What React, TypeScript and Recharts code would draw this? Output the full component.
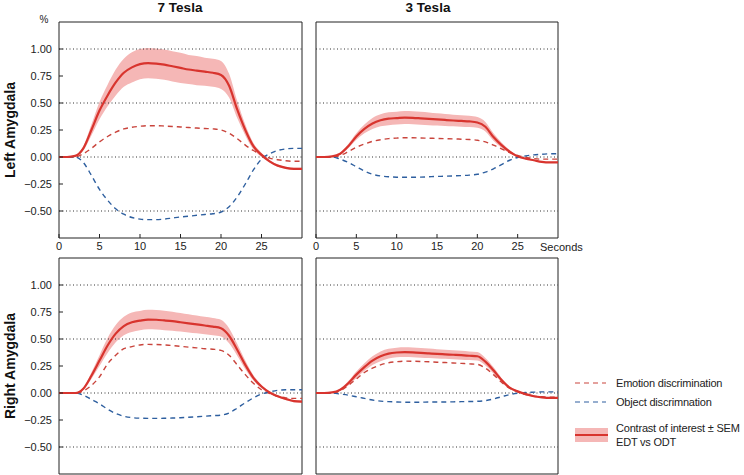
import {
  ComposedChart,
  Area,
  Line,
  XAxis,
  YAxis,
  ReferenceLine,
  ReferenceArea,
} from 'recharts';

const FONT = '"Liberation Sans", Arial, sans-serif';

const SECONDS = [
  0, 1, 2, 3, 4, 5, 6, 7, 8, 9, 10, 11, 12, 13, 14, 15, 16, 17, 18, 19, 20, 21, 22, 23, 24, 25, 26,
  27, 28, 29, 30,
];
const X_TICKS = [0, 5, 10, 15, 20, 25];
const Y_TICKS = [1, 0.75, 0.5, 0.25, 0, -0.25, -0.5];
const GRID_Y = [1, 0.5, 0, -0.5];

// 7 Tesla, left amygdala
const L7_CONTRAST = [
  0, 0, 0.01, 0.08, 0.25, 0.43, 0.57, 0.69, 0.78, 0.83, 0.86, 0.87, 0.865, 0.855, 0.84, 0.825, 0.81,
  0.8, 0.79, 0.78, 0.76, 0.66, 0.44, 0.25, 0.1, 0.02, -0.04, -0.08, -0.1, -0.11, -0.11,
];
const L7_SEM = [
  0, 0, 0, 0.02, 0.05, 0.08, 0.1, 0.12, 0.13, 0.14, 0.14, 0.14, 0.14, 0.14, 0.14, 0.14, 0.135, 0.135,
  0.13, 0.13, 0.13, 0.11, 0.08, 0.05, 0.03, 0.02, 0.01, 0.01, 0.01, 0.01, 0.01,
];
const L7_EMOTION = [
  0, 0, 0, 0.03, 0.08, 0.14, 0.19, 0.23, 0.26, 0.275, 0.285, 0.29, 0.29, 0.287, 0.283, 0.278, 0.273,
  0.268, 0.264, 0.26, 0.25, 0.22, 0.17, 0.11, 0.06, 0.02, -0.01, -0.025, -0.035, -0.04, -0.04,
];
const L7_OBJECT = [
  0, 0, 0, -0.05, -0.17, -0.3, -0.4, -0.48, -0.53, -0.56, -0.575, -0.58, -0.58, -0.575, -0.565,
  -0.555, -0.548, -0.54, -0.532, -0.525, -0.51, -0.46, -0.37, -0.25, -0.12, -0.02, 0.03, 0.06, 0.075,
  0.08, 0.08,
];

// 3 Tesla, left amygdala
const L3_CONTRAST = [
  0, 0, 0.005, 0.03, 0.1, 0.19, 0.26, 0.31, 0.34, 0.355, 0.36, 0.365, 0.363, 0.358, 0.353, 0.348,
  0.343, 0.338, 0.334, 0.33, 0.32, 0.28, 0.185, 0.11, 0.05, 0.006, -0.015, -0.03, -0.045, -0.05, -0.05,
];
const L3_SEM = [
  0, 0, 0, 0.01, 0.02, 0.03, 0.04, 0.05, 0.055, 0.06, 0.06, 0.06, 0.06, 0.06, 0.058, 0.056, 0.055,
  0.054, 0.053, 0.052, 0.05, 0.045, 0.035, 0.025, 0.015, 0.01, 0.005, 0.005, 0.005, 0.005, 0.005,
];
const L3_EMOTION = [
  0, 0, 0, 0.015, 0.05, 0.09, 0.12, 0.145, 0.16, 0.17, 0.175, 0.178, 0.178, 0.176, 0.174, 0.172, 0.17,
  0.168, 0.165, 0.162, 0.155, 0.14, 0.11, 0.075, 0.04, 0.015, -0.005, -0.015, -0.02, -0.02, -0.02,
];
const L3_OBJECT = [
  0, 0, 0, -0.02, -0.05, -0.09, -0.13, -0.16, -0.175, -0.183, -0.187, -0.188, -0.188, -0.186, -0.183,
  -0.18, -0.178, -0.175, -0.172, -0.168, -0.16, -0.14, -0.11, -0.07, -0.03, -0.005, 0.01, 0.02, 0.025,
  0.03, 0.03,
];

// 7 Tesla, right amygdala
const R7_CONTRAST = [
  0, 0, 0, 0.04, 0.16, 0.3, 0.44, 0.55, 0.62, 0.655, 0.67, 0.68, 0.678, 0.672, 0.665, 0.655, 0.645,
  0.635, 0.625, 0.615, 0.6, 0.53, 0.4, 0.26, 0.14, 0.06, 0.005, -0.03, -0.055, -0.075, -0.08,
];
const R7_SEM = [
  0, 0, 0, 0.01, 0.03, 0.05, 0.07, 0.08, 0.085, 0.09, 0.09, 0.09, 0.09, 0.09, 0.088, 0.086, 0.084,
  0.082, 0.08, 0.08, 0.078, 0.07, 0.055, 0.04, 0.025, 0.015, 0.01, 0.01, 0.01, 0.01, 0.01,
];
const R7_EMOTION = [
  0, 0, 0, 0.02, 0.07, 0.15, 0.27, 0.35, 0.41, 0.43, 0.445, 0.45, 0.449, 0.445, 0.44, 0.432, 0.425,
  0.418, 0.41, 0.405, 0.395, 0.35, 0.26, 0.17, 0.09, 0.03, -0.005, -0.03, -0.045, -0.05, -0.05,
];
const R7_OBJECT = [
  0, 0, 0, -0.02, -0.06, -0.1, -0.15, -0.19, -0.215, -0.228, -0.233, -0.235, -0.235, -0.234, -0.232,
  -0.229, -0.225, -0.22, -0.215, -0.21, -0.205, -0.185, -0.14, -0.09, -0.045, -0.01, 0.01, 0.025,
  0.03, 0.03, 0.03,
];

// 3 Tesla, right amygdala
const R3_CONTRAST = [
  0, 0, 0.005, 0.03, 0.09, 0.17, 0.24, 0.3, 0.34, 0.365, 0.375, 0.378, 0.376, 0.372, 0.367, 0.362,
  0.358, 0.354, 0.35, 0.345, 0.34, 0.29, 0.21, 0.12, 0.05, 0.015, -0.01, -0.03, -0.04, -0.045, -0.045,
];
const R3_SEM = [
  0, 0, 0, 0.01, 0.02, 0.03, 0.035, 0.04, 0.045, 0.045, 0.045, 0.045, 0.045, 0.045, 0.044, 0.043,
  0.042, 0.042, 0.041, 0.04, 0.04, 0.035, 0.03, 0.02, 0.012, 0.008, 0.005, 0.005, 0.005, 0.005, 0.005,
];
const R3_EMOTION = [
  0, 0, 0, 0.02, 0.07, 0.13, 0.19, 0.23, 0.26, 0.28, 0.29, 0.295, 0.294, 0.292, 0.289, 0.285, 0.282,
  0.278, 0.274, 0.27, 0.265, 0.23, 0.17, 0.1, 0.045, 0.01, -0.015, -0.03, -0.035, -0.04, -0.04,
];
const R3_OBJECT = [
  0, 0, 0, -0.01, -0.02, -0.035, -0.05, -0.065, -0.075, -0.08, -0.083, -0.085, -0.085, -0.085,
  -0.084, -0.084, -0.083, -0.082, -0.08, -0.079, -0.077, -0.07, -0.055, -0.035, -0.015, -0.002, 0.005,
  0.008, 0.01, 0.01, 0.01,
];

const BAND_COLOR = '#f5b7b6';
const CONTRAST_COLOR = '#d8342e';
const EMOTION_COLOR = '#c9443c';
const OBJECT_COLOR = '#2e5f9f';
const GRID_COLOR = '#333';
const TEXT_COLOR = '#222';

function buildData(contrast: number[], sem: number[], emotion: number[], object: number[]) {
  return SECONDS.map((t, i) => ({
    t,
    contrast: contrast[i],
    band: [contrast[i] - sem[i], contrast[i] + sem[i]],
    emotion: emotion[i],
    object: object[i],
  }));
}

const formatY = (v: number) => (v < 0 ? '\u2212' : '') + Math.abs(v).toFixed(2);

interface PanelProps {
  data: ReturnType<typeof buildData>;
  left: number;
  top: number;
  width: number;
  height: number;
  margin: { top: number; right: number; bottom: number; left: number };
  yAxisWidth: number;
  xAxisHeight: number;
  showY: boolean;
  showX: boolean;
}

function Panel({ data, left, top, width, height, margin, yAxisWidth, xAxisHeight, showY, showX }: PanelProps) {
  const tickStyle = { fontSize: 11, fill: TEXT_COLOR, fontFamily: FONT };
  return (
    <div style={{ position: 'absolute', left, top }}>
      <ComposedChart width={width} height={height} data={data} margin={margin}>
        <XAxis
          dataKey="t"
          type="number"
          domain={[0, 30]}
          ticks={X_TICKS}
          interval={0}
          height={xAxisHeight}
          axisLine={false}
          tickLine={{ stroke: TEXT_COLOR }}
          tickSize={-4}
          tickMargin={8}
          tick={showX ? tickStyle : false}
        />
        <YAxis
          type="number"
          domain={[-0.75, 1.25]}
          ticks={Y_TICKS}
          interval={0}
          width={yAxisWidth}
          axisLine={false}
          tickLine={{ stroke: TEXT_COLOR }}
          tickSize={-4}
          tickMargin={11}
          tick={showY ? tickStyle : false}
          tickFormatter={formatY}
        />
        {GRID_Y.map((v) => (
          <ReferenceLine key={v} y={v} stroke={GRID_COLOR} strokeDasharray="1 2.5" strokeWidth={1} />
        ))}
        <Area
          type="monotone"
          dataKey="band"
          fill={BAND_COLOR}
          fillOpacity={1}
          stroke="none"
          dot={false}
          activeDot={false}
          isAnimationActive={false}
        />
        <Line
          type="monotone"
          dataKey="emotion"
          stroke={EMOTION_COLOR}
          strokeWidth={1.4}
          strokeDasharray="5 4"
          dot={false}
          activeDot={false}
          isAnimationActive={false}
        />
        <Line
          type="monotone"
          dataKey="object"
          stroke={OBJECT_COLOR}
          strokeWidth={1.4}
          strokeDasharray="5 4"
          dot={false}
          activeDot={false}
          isAnimationActive={false}
        />
        <Line
          type="monotone"
          dataKey="contrast"
          stroke={CONTRAST_COLOR}
          strokeWidth={2.2}
          dot={false}
          activeDot={false}
          isAnimationActive={false}
        />
        <ReferenceArea
          x1={0}
          x2={30}
          y1={-0.75}
          y2={1.25}
          fill="none"
          fillOpacity={0}
          stroke={TEXT_COLOR}
          strokeWidth={1}
        />
      </ComposedChart>
    </div>
  );
}

const LEGEND_ITEMS = [
  { kind: 'dash', color: EMOTION_COLOR, lines: ['Emotion discrimination'] },
  { kind: 'dash', color: OBJECT_COLOR, lines: ['Object discrimnation'] },
  { kind: 'band', color: CONTRAST_COLOR, lines: ['Contrast of interest \u00b1 SEM', 'EDT vs ODT'] },
];

function LegendBox() {
  const rowTops = [375, 394, 421];
  return (
    <div
      style={{
        position: 'absolute',
        left: 573,
        top: 0,
        fontFamily: FONT,
        fontSize: 11,
        letterSpacing: '-0.2px',
        color: TEXT_COLOR,
      }}
    >
      {LEGEND_ITEMS.map((item, i) => (
        <div
          key={item.lines[0]}
          style={{ position: 'absolute', top: rowTops[i], left: 0, display: 'flex', alignItems: 'center', whiteSpace: 'nowrap' }}
        >
          <svg width={36} height={16} style={{ flex: 'none' }}>
            {item.kind === 'band' ? (
              <>
                <rect x={2} y={1} width={33} height={14} fill={BAND_COLOR} />
                <line x1={2} x2={35} y1={8} y2={8} stroke={item.color} strokeWidth={2.2} />
              </>
            ) : (
              <line x1={2} x2={33} y1={8} y2={8} stroke={item.color} strokeWidth={1.2} strokeDasharray="5 4" />
            )}
          </svg>
          <div style={{ marginLeft: 7, lineHeight: '14px' }}>
            {item.lines.map((l) => (
              <div key={l}>{l}</div>
            ))}
          </div>
        </div>
      ))}
    </div>
  );
}

export default function App() {
  const l7 = buildData(L7_CONTRAST, L7_SEM, L7_EMOTION, L7_OBJECT);
  const l3 = buildData(L3_CONTRAST, L3_SEM, L3_EMOTION, L3_OBJECT);
  const r7 = buildData(R7_CONTRAST, R7_SEM, R7_EMOTION, R7_OBJECT);
  const r3 = buildData(R3_CONTRAST, R3_SEM, R3_EMOTION, R3_OBJECT);

  return (
    <div style={{ position: 'absolute', left: 0, top: 0, width: 744, height: 475, background: '#fff', overflow: 'hidden' }}>
      <Panel data={l7} left={0} top={0} width={310} height={260}
        margin={{ top: 22, right: 8, bottom: 0, left: 0 }} yAxisWidth={59} xAxisHeight={22} showY showX />
      <Panel data={l3} left={300} top={0} width={266} height={260}
        margin={{ top: 22, right: 8, bottom: 0, left: 15 }} yAxisWidth={1} xAxisHeight={22} showY={false} showX />
      <Panel data={r7} left={0} top={248} width={310} height={227}
        margin={{ top: 10, right: 8, bottom: 0, left: 0 }} yAxisWidth={59} xAxisHeight={1} showY showX={false} />
      <Panel data={r3} left={300} top={248} width={266} height={227}
        margin={{ top: 10, right: 8, bottom: 0, left: 15 }} yAxisWidth={1} xAxisHeight={1} showY={false} showX={false} />

      <svg width={744} height={475} style={{ position: 'absolute', left: 0, top: 0, pointerEvents: 'none' }}>
        <text x={180} y={12} textAnchor="middle" fontFamily={FONT} fontWeight="bold" fontSize={13.5} fill="#111">
          7 Tesla
        </text>
        <text x={428} y={12} textAnchor="middle" fontFamily={FONT} fontWeight="bold" fontSize={13.5} fill="#111">
          3 Tesla
        </text>
        <text x={44} y={23} textAnchor="middle" fontFamily={FONT} fontSize={10} fill={TEXT_COLOR}>
          %
        </text>
        <text x={540} y={251} fontFamily={FONT} fontSize={11} fill={TEXT_COLOR}>
          Seconds
        </text>
        <text transform="translate(15,130) rotate(-90)" textAnchor="middle" fontFamily={FONT}
          fontWeight="bold" fontSize={14} fill="#111">
          Left Amygdala
        </text>
        <text transform="translate(15,366) rotate(-90)" textAnchor="middle" fontFamily={FONT}
          fontWeight="bold" fontSize={14} fill="#111">
          Right Amygdala
        </text>
      </svg>
      <LegendBox />
    </div>
  );
}
